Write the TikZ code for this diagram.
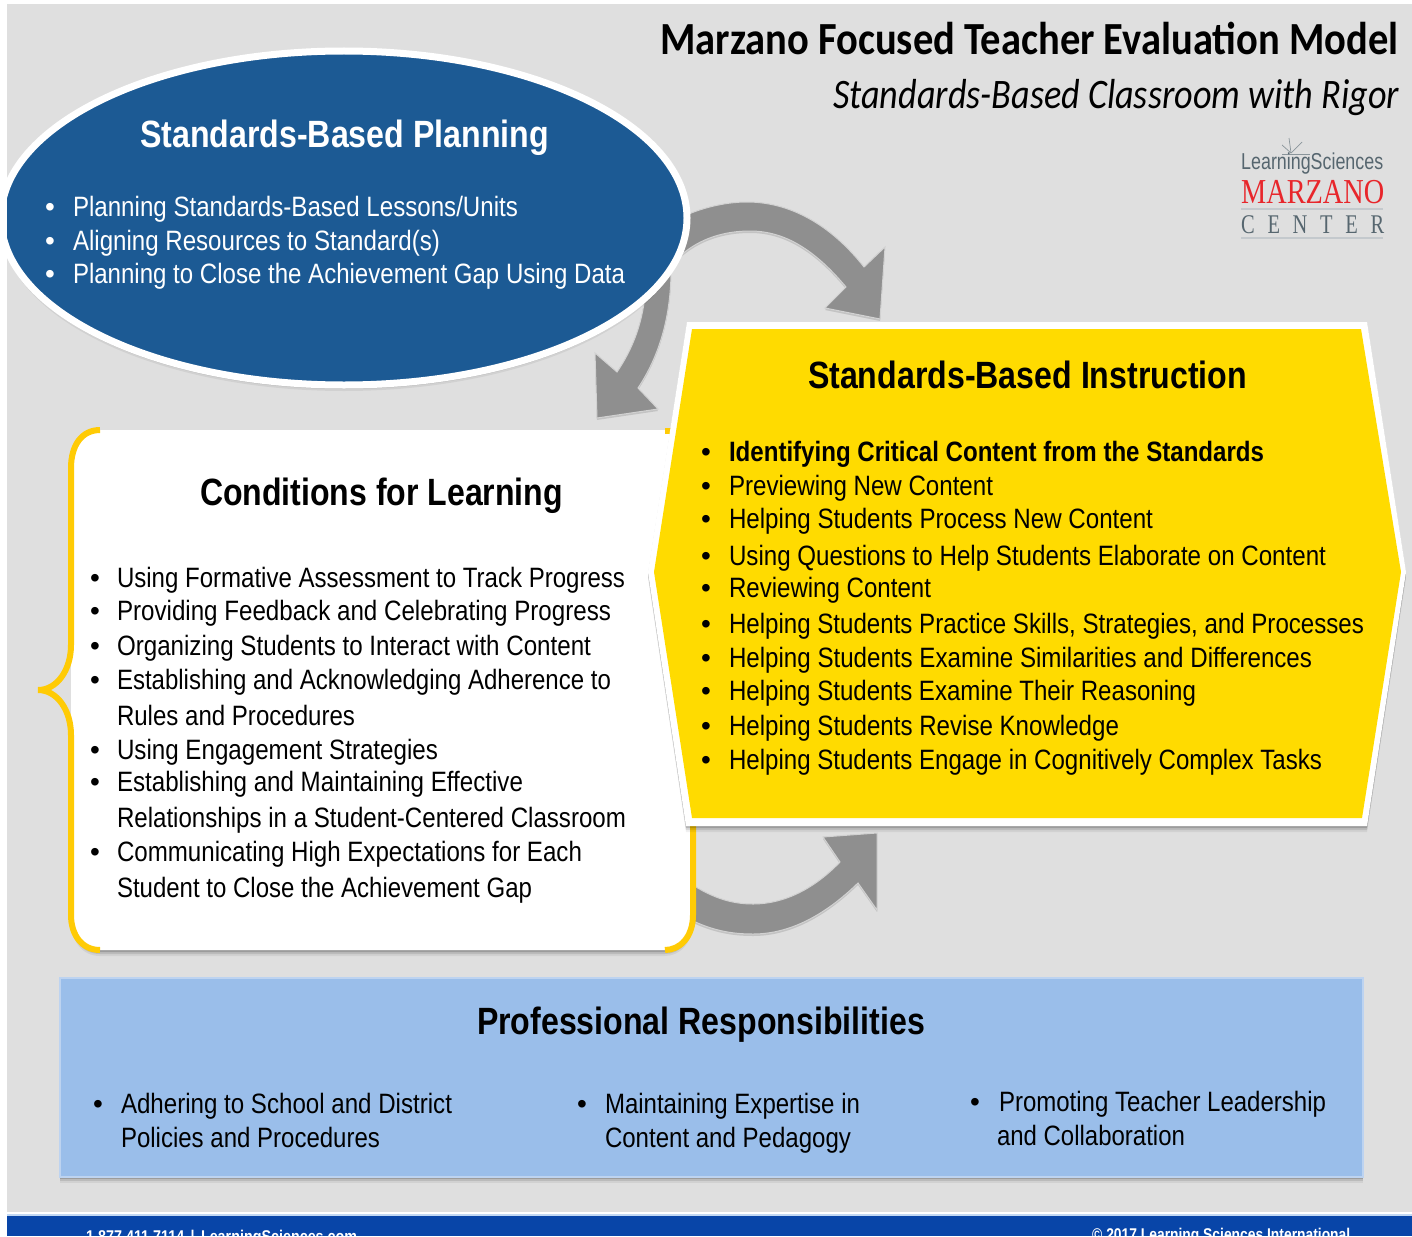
\documentclass[tikz,border=0pt]{standalone}
\usepackage{fontspec}
\usepackage{graphicx}
\setmainfont{Liberation Sans}
\newfontfamily\logoserif{Liberation Serif}
\newfontfamily\titlefont{Carlito}
\definecolor{bggray}{HTML}{DFDFDF}
\definecolor{footblue}{HTML}{0845A8}
\definecolor{planblue}{HTML}{1C5A94}
\definecolor{instyellow}{HTML}{FFDB00}
\definecolor{bracegold}{HTML}{FFCB05}
\definecolor{profblue}{HTML}{9ABEEA}
\definecolor{profedge}{HTML}{BDD3F0}
\definecolor{arrowgray}{HTML}{8F8F8F}
\definecolor{arrowedge}{HTML}{D2D2D2}
\definecolor{logogray}{HTML}{56666F}
\definecolor{logored}{HTML}{E8262B}
\tikzset{
  softshad/.style={
    preaction={fill=black,opacity=.06,transform canvas={yshift=-6pt}},
    preaction={fill=black,opacity=.10,transform canvas={yshift=-4pt}},
    preaction={fill=black,opacity=.16,transform canvas={yshift=-2pt}}},
  blockarrow/.style={fill=arrowgray,draw=arrowedge,line width=1pt,line join=miter,
    preaction={fill=black,opacity=.12,transform canvas={yshift=-2pt}}},
  txt/.style={inner sep=0pt,outer sep=0pt,font=\fontsize{28}{30}\selectfont},
  head/.style={inner sep=0pt,outer sep=0pt,font=\fontsize{38}{42}\bfseries\selectfont},
}
\newcommand{\lin}[6]{\node[txt,text=#1,anchor=base west] (#2) at (#3,#4) {\resizebox{#5pt}{\height}{#6}};}
\newcommand{\bul}[4]{\node[txt,text=#1,anchor=base] (#2) at (#3,#4) {•};}
\newcommand{\hd}[6]{\node[head,text=#1,anchor=base west] (#2) at (#3,#4) {\resizebox{#5pt}{\height}{#6}};}
\begin{document}
\begin{tikzpicture}[x=1pt,y=-1pt]
\useasboundingbox (0,0) rectangle (1412,1236);
\clip (0,0) rectangle (1412,1236);
\fill[white] (0,0) rectangle (1412,1236);
\fill[bggray] (7,4) rectangle (1412,1212);
\fill[profblue!60!white] (7,1213.5) rectangle (1412,1216);
\fill[footblue] (7,1216) rectangle (1412,1236);
\node[inner sep=0pt,text=white,font=\fontsize{17}{20}\bfseries\selectfont,anchor=base west] (footl) at (86,1242) {\resizebox{271pt}{\height}{1.877.411.7114 \,|\, LearningSciences.com}};
\node[inner sep=0pt,text=white,font=\fontsize{17}{20}\bfseries\selectfont,anchor=base west] (footr) at (1092,1240) {\resizebox{258pt}{\height}{© 2017 Learning Sciences International}};

% block arrows
\draw[blockarrow] (680,218) .. controls (700,208) and (725,202) .. (747,202)
  .. controls (795,202) and (835,230) .. (864,267) -- (885,247) -- (880,319) -- (825,308) -- (846,287)
  .. controls (815,250) and (785,231) .. (750,231)
  .. controls (725,231) and (700,238) .. (680,256) -- cycle;
\draw[blockarrow] (671,270) .. controls (671,315) and (660,355) .. (638,388)
  -- (658,409) -- (597,418) -- (595,353) -- (617,372)
  .. controls (632,350) and (642,325) .. (645,295) -- cycle;
\draw[blockarrow] (685,880) .. controls (710,897) and (730,904) .. (753,904)
  .. controls (785,904) and (815,888) .. (840,862) -- (823,837) -- (877,833) -- (877,910) -- (858,883)
  .. controls (825,915) and (790,934) .. (753,934)
  .. controls (730,934) and (710,930) .. (685,917) -- cycle;

% title
\node[inner sep=0pt,font=\fontsize{46}{50}\titlefont\bfseries\selectfont,anchor=base west] (title) at (660,55) {\resizebox{738pt}{\height}{Marzano Focused Teacher Evaluation Model}};
\node[inner sep=0pt,font=\fontsize{42}{46}\titlefont\itshape\selectfont,anchor=base west] (subtitle) at (833,109) {\resizebox{566pt}{\height}{Standards-Based Classroom with Rigor}};

% logo
\foreach \tx/\ty in {1282/145,1289/138,1302/142}
  \draw[logogray!70,line width=.7pt] (1291,153) -- (\tx,\ty);
\draw[logogray!70,line width=.7pt] (1282,154) -- (1310,154);
\node[inner sep=0pt,text=logogray,font=\fontsize{23}{26}\selectfont,anchor=base west] (logoa) at (1241,169) {\resizebox{142pt}{\height}{LearningSciences}};
\node[inner sep=0pt,text=logored,font=\fontsize{35}{36}\logoserif\selectfont,anchor=base west] (logob) at (1241,203) {\resizebox{143pt}{\height}{MARZANO}};
\draw[logogray!35,line width=1.5pt] (1241,209) -- (1383,209);
\node[inner sep=0pt,text=logogray,font=\fontsize{27}{30}\logoserif\selectfont,anchor=base west] (logoc) at (1241,233) {\resizebox{143pt}{\height}{C\hspace{.62em}E\hspace{.62em}N\hspace{.62em}T\hspace{.62em}E\hspace{.62em}R}};
\draw[logogray!35,line width=1.5pt] (1241,238) -- (1383,238);

% conditions box
\path[fill=white,softshad] (100,430) -- (693,430) -- (693,915) .. controls (693,937) and (680,950) .. (665,950)
  -- (100,950) .. controls (82,950) and (71,935) .. (71,915) -- (71,735) -- (71,645) -- (71,465) .. controls (71,445) and (82,430) .. (100,430) -- cycle;
\draw[bracegold,line width=6pt] (100,430) .. controls (82,430) and (71,445) .. (71,468) -- (71,645)
  .. controls (71,670) and (57,690) .. (38,690) .. controls (57,690) and (71,710) .. (71,735)
  -- (71,915) .. controls (71,935) and (82,950) .. (100,950);
\draw[bracegold,line width=6pt] (693,800) -- (693,915) .. controls (693,937) and (680,950) .. (665,950);
\fill[bracegold] (665,428) rectangle (671,434);

% planning ellipse
\begin{scope}
\clip (7,0) rectangle (1412,1236);
\path[fill=planblue,draw=white,line width=7pt,softshad] (344,218) ellipse [x radius=343,y radius=167];
\end{scope}

% instruction hexagon
\path[fill=white,softshad] (687,322) -- (1367,322) -- (1406,572) -- (1367,826) -- (686,826) -- (648,572) -- cycle;
\fill[instyellow] (692,329) -- (1361,329) -- (1401,572) -- (1362,818) -- (692,818) -- (654,572) -- cycle;

% professional box
\path[fill=profblue,draw=profedge,line width=2pt,softshad] (60,978) rectangle (1363,1177);

% planning text
\hd{white}{planh}{140}{147}{409}{Standards-Based Planning}
\bul{white}{planb1}{50}{216}
\lin{white}{plan1}{73}{216}{445}{Planning Standards-Based Lessons/Units}
\bul{white}{planb2}{50}{250}
\lin{white}{plan2}{73}{250}{367}{Aligning Resources to Standard(s)}
\bul{white}{planb3}{50}{283}
\lin{white}{plan3}{73}{283}{552}{Planning to Close the Achievement Gap Using Data}

% conditions text
\hd{black}{condh}{200}{505}{363}{Conditions for Learning}
\bul{black}{cb1}{95}{587}
\lin{black}{c1}{117}{587}{508}{Using Formative Assessment to Track Progress}
\bul{black}{cb2}{95}{620}
\lin{black}{c2}{117}{620}{494}{Providing Feedback and Celebrating Progress}
\bul{black}{cb3}{95}{655}
\lin{black}{c3}{117}{655}{474}{Organizing Students to Interact with Content}
\bul{black}{cb4}{95}{689}
\lin{black}{c4}{117}{689}{494}{Establishing and Acknowledging Adherence to}
\lin{black}{c5}{117}{725}{238}{Rules and Procedures}
\bul{black}{cb6}{95}{759}
\lin{black}{c6}{117}{759}{321}{Using Engagement Strategies}
\bul{black}{cb7}{95}{791}
\lin{black}{c7}{117}{791}{406}{Establishing and Maintaining Effective}
\lin{black}{c8}{117}{827}{509}{Relationships in a Student-Centered Classroom}
\bul{black}{cb9}{95}{861}
\lin{black}{c9}{117}{861}{465}{Communicating High Expectations for Each}
\lin{black}{c10}{117}{897}{415}{Student to Close the Achievement Gap}

% instruction text
\hd{black}{insth}{808}{388}{439}{Standards-Based Instruction}
\bul{black}{ib1}{706}{461}
\node[txt,font=\fontsize{28}{30}\bfseries\selectfont,anchor=base west] (i1) at (729,461) {\resizebox{535pt}{\height}{Identifying Critical Content from the Standards}};
\bul{black}{ib2}{706}{495}
\lin{black}{i2}{729}{495}{264}{Previewing New Content}
\bul{black}{ib3}{706}{528}
\lin{black}{i3}{729}{528}{424}{Helping Students Process New Content}
\bul{black}{ib4}{706}{565}
\lin{black}{i4}{729}{565}{597}{Using Questions to Help Students Elaborate on Content}
\bul{black}{ib5}{706}{597}
\lin{black}{i5}{729}{597}{202}{Reviewing Content}
\bul{black}{ib6}{706}{633}
\lin{black}{i6}{729}{633}{635}{Helping Students Practice Skills, Strategies, and Processes}
\bul{black}{ib7}{706}{667}
\lin{black}{i7}{729}{667}{583}{Helping Students Examine Similarities and Differences}
\bul{black}{ib8}{706}{700}
\lin{black}{i8}{729}{700}{467}{Helping Students Examine Their Reasoning}
\bul{black}{ib9}{706}{735}
\lin{black}{i9}{729}{735}{390}{Helping Students Revise Knowledge}
\bul{black}{ib10}{706}{769}
\lin{black}{i10}{729}{769}{593}{Helping Students Engage in Cognitively Complex Tasks}

% professional text
\hd{black}{profh}{477}{1034}{448}{Professional Responsibilities}
\bul{black}{pb1}{98}{1113}
\lin{black}{p1}{121}{1113}{331}{Adhering to School and District}
\lin{black}{p2}{121}{1147}{259}{Policies and Procedures}
\bul{black}{pb2}{582}{1113}
\lin{black}{p3}{605}{1113}{255}{Maintaining Expertise in}
\lin{black}{p4}{605}{1147}{246}{Content and Pedagogy}
\bul{black}{pb3}{975}{1111}
\lin{black}{p5}{999}{1111}{327}{Promoting Teacher Leadership}
\lin{black}{p6}{997}{1145}{188}{and Collaboration}
\end{tikzpicture}
\end{document}
